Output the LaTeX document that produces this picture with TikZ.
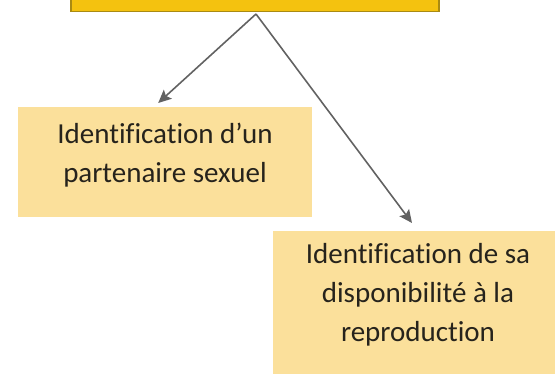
\documentclass[tikz,border=0pt]{standalone}
\usepackage{fontspec}
\setmainfont{Carlito}[Ligatures=NoCommon]
\usetikzlibrary{arrows.meta,calc}

\definecolor{goldfill}{HTML}{F4C20F}
\definecolor{goldedge}{HTML}{A98A12}
\definecolor{paleyellow}{HTML}{FBE09B}
\definecolor{arrowgray}{HTML}{626262}
\definecolor{inkdark}{HTML}{26231C}

\tikzset{
  titlebox/.style={rectangle, fill=goldfill, draw=goldedge, line width=1.3pt,
    minimum width=368pt, minimum height=40pt, inner sep=0pt},
  panel/.style={rectangle, fill=paleyellow, inner sep=0pt, anchor=north west},
  caption/.style={align=center, font=\fontsize{29}{39}\selectfont,
    text=inkdark, inner sep=0pt},
  link/.style={draw=arrowgray, line width=1.6pt,
    -{Stealth[length=13pt,width=12pt,inset=2.5pt]}}
}

\begin{document}
\begin{tikzpicture}[x=1pt,y=-1pt]
  \useasboundingbox (0,0) rectangle (555,374);
  \clip (0,0) rectangle (555,374);

  % heading box, mostly above the visible frame
  \node[titlebox, anchor=south] (titre) at (255,12) {};

  % the two outcome panels
  \node[panel, minimum width=294pt, minimum height=110pt] (partenaire) at (18,107) {};
  \node[caption] (partenaireT) at (165,155.5)
    {Identification d’un\\partenaire sexuel};

  \node[panel, minimum width=300pt, minimum height=160pt] (dispo) at (273,231) {};
  \node[caption] (dispoT) at (418,294.5)
    {Identification de sa\\disponibilité à la\\reproduction};

  % arrows from the heading to each panel
  \draw[link] ($(titre.south)+(1,2)$) -- ($(partenaire.north)+(-7,-4)$);
  \draw[link] ($(titre.south)+(1,2)$) -- ($(dispo.north west)+(139,-8)$);
\end{tikzpicture}
\end{document}
